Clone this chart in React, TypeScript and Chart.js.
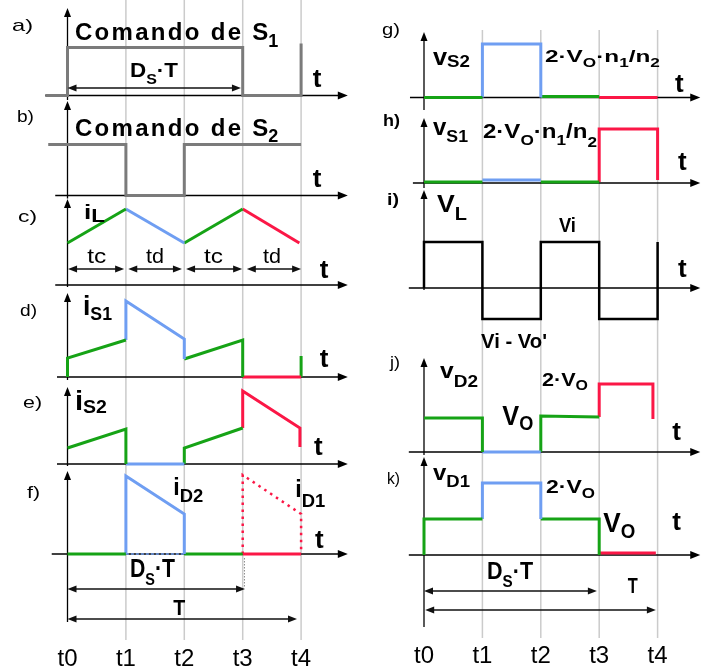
import { useEffect, useRef } from 'react';
import { Chart, registerables } from 'chart.js';

Chart.register(...registerables);

type Pt = [number, number];
type Col = 'L' | 'R';

const W = 702;
const H = 669;
const PX_PER_T = 58.4;
const PX_PER_UNIT = 10;
const COL_X0: Record<Col, number> = { L: 67.5, R: 424 };

const T_TICKS = [0, 1, 2, 3, 4];
const T_LABELS = ['t0', 't1', 't2', 't3', 't4'];

// a) gate command of S1
const cmdS1: Pt[] = [[-0.38, 0], [0, 0], [0, 4.8], [3, 4.8], [3, 0], [4, 0], [4, 5.2]];
// b) gate command of S2
const cmdS2: Pt[] = [[-0.33, 5.1], [1, 5.1], [1, 0], [2, 0], [2, 5.1], [4, 5.1]];

// c) inductor current iL
const iLRise1: Pt[] = [[0, 4.2], [1, 7.6]];
const iLFall1: Pt[] = [[1, 7.6], [2, 4.2]];
const iLRise2: Pt[] = [[2, 4.2], [3, 7.6]];
const iLFall2: Pt[] = [[3, 7.6], [3.97, 4.2]];

// d) switch current iS1
const iS1a: Pt[] = [[0, 0], [0, 1.9], [1, 3.7]];
const iS1b: Pt[] = [[1, 3.7], [1, 7.6], [2, 3.8], [2, 1.8]];
const iS1c: Pt[] = [[2, 1.8], [3, 3.7], [3, 0]];
const iS1d: Pt[] = [[3, 0], [4, 0]];
const iS1e: Pt[] = [[4, 0], [4, 2.1]];

// e) switch current iS2
const iS2a: Pt[] = [[0, 1.6], [1, 3.5], [1, 0]];
const iS2b: Pt[] = [[1, 0], [2, 0]];
const iS2c: Pt[] = [[2, 0], [2, 1.6], [3, 3.6]];
const iS2d: Pt[] = [[3, 3.6], [3, 7.3], [3.98, 3.6], [3.98, 1.7]];

// f) diode currents iD2 / iD1
const iD2Zero: Pt[] = [[1, 0], [2, 0]];
const iDOff1: Pt[] = [[0, 0], [1, 0]];
const iD2Pulse: Pt[] = [[1, 0], [1, 7.8], [2, 4.0], [2, 0]];
const iDOff2: Pt[] = [[2, 0], [3, 0]];
const iDOff3: Pt[] = [[3, 0], [4, 0]];
const iD1Pulse: Pt[] = [[3, 0], [3, 7.9], [4, 4.0], [4, 0]];

// g) switch voltage vS2
const vS2a: Pt[] = [[0, 0], [1, 0]];
const vS2b: Pt[] = [[1, 0], [1, 5.35], [2, 5.35], [2, 0]];
const vS2c: Pt[] = [[2, 0.1], [3, 0.1]];
const vS2d: Pt[] = [[3, 0], [4, 0]];

// h) switch voltage vS1
const vS1a: Pt[] = [[0, 0.1], [1, 0.1]];
const vS1b: Pt[] = [[1, 0.3], [2, 0.3]];
const vS1c: Pt[] = [[2, 0.1], [3, 0.1]];
const vS1d: Pt[] = [[3, 0.1], [3, 5.4], [4, 5.4], [4, 0.3]];

// i) inductor voltage VL
const vL: Pt[] = [[0, 0], [0, 4.6], [1, 4.6], [1, -3.1], [2, -3.1], [2, 4.6], [3, 4.6], [3, -3.1], [4, -3.1], [4, 4.6]];

// j) diode voltage vD2
const vD2a: Pt[] = [[0, 3.4], [1, 3.4], [1, 0]];
const vD2b: Pt[] = [[1, 0], [2, 0]];
const vD2c: Pt[] = [[2, 0], [2, 3.6], [3, 3.5]];
const vD2d: Pt[] = [[3, 3.5], [3, 6.8], [3.92, 6.8], [3.92, 3.3]];

// k) diode voltage vD1
const vD1a: Pt[] = [[0, 0], [0, 3.6], [1, 3.6]];
const vD1b: Pt[] = [[1, 3.6], [1, 7.2], [2, 7.2], [2, 3.6]];
const vD1c: Pt[] = [[2, 3.6], [3, 3.6], [3, 0]];
const vD1d: Pt[] = [[3, 0.2], [3.97, 0.2]];

const GREEN = '#16a316';
const BLUE = '#6f9ef2';
const RED = '#fb1746';
const GRAY = '#7b7b7b';
const GRID = '#cbcbcb';
const FONT = '"Liberation Sans", Arial, Helvetica, sans-serif';

type Panel = { id: string; col: Col; base: number; vLow: number; vHigh: number; tFrom: number; tTo: number };

// each panel: baseline pixel row and the extent of its axis arrows
const PANELS: Panel[] = [
  { id: 'a', col: 'L', base: 95.5, vLow: -0.45, vHigh: 8.75, tFrom: -0.38, tTo: 4.8 },
  { id: 'b', col: 'L', base: 195.5, vLow: -0.3, vHigh: 9.45, tFrom: -0.21, tTo: 4.8 },
  { id: 'c', col: 'L', base: 285, vLow: -0.2, vHigh: 8.6, tFrom: -0.21, tTo: 4.8 },
  { id: 'd', col: 'L', base: 377, vLow: -0.3, vHigh: 8.4, tFrom: -0.18, tTo: 4.8 },
  { id: 'e', col: 'L', base: 464, vLow: -0.2, vHigh: 7.7, tFrom: -0.18, tTo: 4.8 },
  { id: 'f', col: 'L', base: 554, vLow: -6.8, vHigh: 8.3, tFrom: -0.27, tTo: 4.8 },
  { id: 'g', col: 'R', base: 97.5, vLow: -1.25, vHigh: 6.55, tFrom: -0.24, tTo: 4.73 },
  { id: 'h', col: 'R', base: 183, vLow: -0.5, vHigh: 6.5, tFrom: -0.19, tTo: 4.73 },
  { id: 'i', col: 'R', base: 288, vLow: -0.2, vHigh: 9.8, tFrom: -0.26, tTo: 4.73 },
  { id: 'j', col: 'R', base: 452, vLow: -0.3, vHigh: 9.4, tFrom: -0.26, tTo: 4.73 },
  { id: 'k', col: 'R', base: 555, vLow: -7.2, vHigh: 9.8, tFrom: -0.26, tTo: 4.73 },
];
const colOf = (p: string): Col => (PANELS.find((q) => q.id === p) as Panel).col;

type Series = { p: string; pts: Pt[]; color: string; width?: number; dash?: number[] };
const SERIES: Series[] = [
  { p: 'a', pts: cmdS1, color: GRAY },
  { p: 'b', pts: cmdS2, color: GRAY },
  { p: 'c', pts: iLRise1, color: GREEN },
  { p: 'c', pts: iLFall1, color: BLUE },
  { p: 'c', pts: iLRise2, color: GREEN },
  { p: 'c', pts: iLFall2, color: RED },
  { p: 'd', pts: iS1a, color: GREEN },
  { p: 'd', pts: iS1b, color: BLUE },
  { p: 'd', pts: iS1c, color: GREEN },
  { p: 'd', pts: iS1d, color: RED },
  { p: 'd', pts: iS1e, color: GREEN },
  { p: 'e', pts: iS2a, color: GREEN },
  { p: 'e', pts: iS2b, color: BLUE },
  { p: 'e', pts: iS2c, color: GREEN },
  { p: 'e', pts: iS2d, color: RED },
  { p: 'f', pts: iD2Zero, color: BLUE, width: 1.5, dash: [3, 2] },
  { p: 'f', pts: iDOff1, color: GREEN },
  { p: 'f', pts: iD2Pulse, color: BLUE },
  { p: 'f', pts: iDOff2, color: GREEN },
  { p: 'f', pts: iDOff3, color: RED },
  { p: 'f', pts: iD1Pulse, color: RED, width: 2.5, dash: [2.5, 4.5] },
  { p: 'g', pts: vS2a, color: GREEN },
  { p: 'g', pts: vS2b, color: BLUE },
  { p: 'g', pts: vS2c, color: GREEN },
  { p: 'g', pts: vS2d, color: RED },
  { p: 'h', pts: vS1a, color: GREEN },
  { p: 'h', pts: vS1b, color: BLUE },
  { p: 'h', pts: vS1c, color: GREEN },
  { p: 'h', pts: vS1d, color: RED },
  { p: 'i', pts: vL, color: '#000000', width: 2.5 },
  { p: 'j', pts: vD2a, color: GREEN },
  { p: 'j', pts: vD2b, color: BLUE },
  { p: 'j', pts: vD2c, color: GREEN },
  { p: 'j', pts: vD2d, color: RED },
  { p: 'k', pts: vD1a, color: GREEN },
  { p: 'k', pts: vD1b, color: BLUE },
  { p: 'k', pts: vD1c, color: GREEN },
  { p: 'k', pts: vD1d, color: RED },
];

// interval dimension arrows
const DIMS = [
  { p: 'a', v: 0.75, from: 0, to: 2.97 },
  { p: 'c', v: 1.6, from: 0.01, to: 0.97 },
  { p: 'c', v: 1.6, from: 1.04, to: 1.96 },
  { p: 'c', v: 1.6, from: 2.03, to: 2.99 },
  { p: 'c', v: 1.6, from: 3.07, to: 4.0 },
  { p: 'f', v: -3.5, from: 0, to: 3.04 },
  { p: 'f', v: -6.5, from: 0, to: 3.93 },
  { p: 'k', v: -3.6, from: 0, to: 2.96 },
  { p: 'k', v: -5.5, from: 0.02, to: 3.97 },
];

type Run = { s: string; size: number; bold?: boolean; dy?: number; ls?: number };
type Label = { p: string; t: number; v: number; runs: Run[]; w?: number; center?: boolean };
const r = (s: string, size: number, bold = false, dy = 0, ls = 0): Run => ({ s, size, bold, dy, ls });

const LABELS: Label[] = [
  { p: 'a', t: -0.95, v: 6.45, w: 21, runs: [r('a)', 17)] },
  { p: 'b', t: -0.865, v: 7.35, w: 17, runs: [r('b)', 17)] },
  { p: 'c', t: -0.848, v: 6.3, w: 19, runs: [r('c)', 17)] },
  { p: 'd', t: -0.813, v: 6.1, w: 17, runs: [r('d)', 17)] },
  { p: 'e', t: -0.762, v: 5.6, w: 19, runs: [r('e)', 17)] },
  { p: 'f', t: -0.693, v: 5.6, w: 13, runs: [r('f)', 17)] },
  { p: 'g', t: -0.719, v: 6.25, w: 18, runs: [r('g)', 17)] },
  { p: 'h', t: -0.702, v: 5.7, w: 17, runs: [r('h)', 17, true)] },
  { p: 'i', t: -0.634, v: 8.3, w: 12, runs: [r('i)', 17, true)] },
  { p: 'j', t: -0.582, v: 8.4, w: 10, runs: [r('j)', 17)] },
  { p: 'k', t: -0.634, v: 7.1, w: 13, runs: [r('k)', 17)] },

  { p: 'a', t: 0.128, v: 5.55, runs: [r('Comando de S', 24, true, 0, 2.3), r('1', 18, true, 7)] },
  { p: 'b', t: 0.128, v: 5.95, runs: [r('Comando de S', 24, true, 0, 2.3), r('2', 18, true, 6)] },
  { p: 'a', t: 1.07, v: 1.85, w: 48, runs: [r('D', 21, true), r('S', 15, true, 7), r('·T', 21, true)] },
  { p: 'f', t: 1.07, v: -2.3, w: 45, runs: [r('D', 25, true), r('S', 17, true, 8), r('·T', 25, true)] },
  { p: 'k', t: 1.08, v: -2.4, w: 46, runs: [r('D', 24, true), r('S', 17, true, 8), r('·T', 24, true)] },
  { p: 'f', t: 1.81, v: -6.1, w: 12, runs: [r('T', 22, true)] },
  { p: 'k', t: 3.49, v: -3.8, w: 10, runs: [r('T', 22, true)] },

  { p: 'c', t: 0.5, v: 2.2, w: 19, center: true, runs: [r('tc', 21)] },
  { p: 'c', t: 1.5, v: 2.2, w: 18, center: true, runs: [r('td', 21)] },
  { p: 'c', t: 2.5, v: 2.2, w: 19, center: true, runs: [r('tc', 21)] },
  { p: 'c', t: 3.5, v: 2.2, w: 18, center: true, runs: [r('td', 21)] },

  { p: 'c', t: 0.283, v: 6.6, w: 21, runs: [r('i', 21, true), r('L', 18, true, 3)] },
  { p: 'd', t: 0.265, v: 6.2, w: 29, runs: [r('i', 27, true), r('S1', 18, true, 5)] },
  { p: 'e', t: 0.128, v: 5.4, w: 32, runs: [r('i', 27, true), r('S2', 18, true, 3)] },
  { p: 'f', t: 1.81, v: 5.9, w: 30, runs: [r('i', 24, true), r('D2', 19, true, 7)] },
  { p: 'f', t: 3.9, v: 5.7, w: 30, runs: [r('i', 24, true), r('D1', 19, true, 10)] },

  { p: 'g', t: 0.154, v: 3.25, w: 37, runs: [r('v', 23, true), r('S2', 17, true, 2)] },
  { p: 'g', t: 2.07, v: 3.55, w: 115, runs: [r('2·V', 17, true), r('O', 12, true, 5), r('·n', 17, true), r('1', 12, true, 5), r('/n', 17, true), r('2', 12, true, 5)] },
  { p: 'h', t: 0.154, v: 4.8, w: 35, runs: [r('v', 23, true), r('S1', 17, true, 7)] },
  { p: 'h', t: 1.01, v: 4.5, w: 114, runs: [r('2·V', 21, true), r('O', 15, true, 7), r('·n', 21, true), r('1', 15, true, 7), r('/n', 21, true), r('2', 15, true, 9)] },
  { p: 'i', t: 0.223, v: 7.6, w: 30, runs: [r('V', 24, true), r('L', 18, true, 8)] },
  { p: 'i', t: 2.31, v: 5.6, w: 17, runs: [r('Vi', 21, true)] },
  { p: 'i', t: 0.976, v: -6.0, w: 66, runs: [r("Vi - Vo'", 21, true)] },
  { p: 'j', t: 0.274, v: 7.4, w: 38, runs: [r('v', 22, true), r('D2', 17, true, 9)] },
  { p: 'j', t: 2.02, v: 6.6, w: 46, runs: [r('2·V', 19, true), r('O', 14, true, 4)] },
  { p: 'j', t: 1.34, v: 2.7, w: 31, runs: [r('V', 28, true), r('O', 20, true, 5)] },
  { p: 'k', t: 0.154, v: 7.5, w: 37, runs: [r('v', 22, true), r('D1', 17, true, 7)] },
  { p: 'k', t: 2.09, v: 6.2, w: 49, runs: [r('2·V', 19, true), r('O', 14, true, 5)] },
  { p: 'k', t: 3.07, v: 2.3, w: 32, runs: [r('V', 28, true), r('O', 20, true, 6)] },

  { p: 'a', t: 4.2, v: 0.85, runs: [r('t', 26, true)] },
  { p: 'b', t: 4.2, v: 0.85, runs: [r('t', 26, true)] },
  { p: 'c', t: 4.32, v: 0.7, runs: [r('t', 26, true)] },
  { p: 'd', t: 4.32, v: 1.0, runs: [r('t', 26, true)] },
  { p: 'e', t: 4.22, v: 0.9, runs: [r('t', 26, true)] },
  { p: 'f', t: 4.24, v: 0.6, runs: [r('t', 26, true)] },
  { p: 'g', t: 4.3, v: 0.55, runs: [r('t', 26, true)] },
  { p: 'h', t: 4.35, v: 1.3, runs: [r('t', 26, true)] },
  { p: 'i', t: 4.35, v: 1.1, runs: [r('t', 26, true)] },
  { p: 'j', t: 4.25, v: 1.2, runs: [r('t', 26, true)] },
  { p: 'k', t: 4.25, v: 2.5, runs: [r('t', 26, true)] },

  ...T_TICKS.map((t, i) => ({ p: 'f', t, v: -11.2, center: true, runs: [r(T_LABELS[i], 24)] })),
  ...T_TICKS.map((t, i) => ({ p: 'k', t, v: -10.8, center: true, runs: [r(T_LABELS[i], 24)] })),
];

const fontOf = (run: Run) => `${run.bold ? 'bold ' : ''}${run.size}px ${FONT}`;

function runWidth(ctx: CanvasRenderingContext2D, run: Run) {
  ctx.font = fontOf(run);
  if (!run.ls) return ctx.measureText(run.s).width;
  let w = 0;
  for (const ch of run.s) w += ctx.measureText(ch).width;
  return w + run.ls * (run.s.length - 1);
}

function drawRun(ctx: CanvasRenderingContext2D, run: Run, x: number) {
  ctx.font = fontOf(run);
  const dy = run.dy || 0;
  if (!run.ls) {
    ctx.fillText(run.s, x, dy);
    return ctx.measureText(run.s).width;
  }
  let cx = x;
  for (const ch of run.s) {
    ctx.fillText(ch, cx, dy);
    cx += ctx.measureText(ch).width + run.ls;
  }
  return cx - x - run.ls;
}

function head(ctx: CanvasRenderingContext2D, x: number, y: number, dx: number, dy: number, len: number, half: number) {
  const bx = x - dx * len;
  const by = y - dy * len;
  ctx.beginPath();
  ctx.moveTo(x, y);
  ctx.lineTo(bx - dy * half, by + dx * half);
  ctx.lineTo(bx + dy * half, by - dx * half);
  ctx.closePath();
  ctx.fill();
}

function seg(ctx: CanvasRenderingContext2D, x1: number, y1: number, x2: number, y2: number) {
  ctx.beginPath();
  ctx.moveTo(x1, y1);
  ctx.lineTo(x2, y2);
  ctx.stroke();
}

const diagramPlugin = {
  id: 'diagram',
  beforeDatasetsDraw(chart: any) {
    const ctx: CanvasRenderingContext2D = chart.ctx;
    const X = (c: Col, t: number) => chart.scales['x' + c].getPixelForValue(t);
    const Y = (p: string, v: number) => chart.scales['y' + p].getPixelForValue(v);
    ctx.save();
    // time grid lines through each column
    ctx.strokeStyle = GRID;
    ctx.lineWidth = 1.5;
    for (const t of T_TICKS.slice(1)) {
      seg(ctx, X('L', t), Y('a', 9.55), X('L', t), Y('f', -8.6));
      seg(ctx, X('R', t), Y('g', 6.75), X('R', t), Y('k', -8.3));
    }
    // panel axes with arrow heads
    ctx.strokeStyle = '#000';
    ctx.fillStyle = '#000';
    ctx.lineWidth = 1.3;
    for (const p of PANELS) {
      const ax = X(p.col, 0);
      const top = Y(p.id, p.vHigh);
      seg(ctx, ax, Y(p.id, p.vLow), ax, top + 6);
      head(ctx, ax, top, 0, -1, 9, 3.5);
      const ay = Y(p.id, 0);
      const right = X(p.col, p.tTo);
      seg(ctx, X(p.col, p.tFrom), ay, right - 6, ay);
      head(ctx, right, ay, 1, 0, 10, 4);
    }
    ctx.restore();
  },
  afterDatasetsDraw(chart: any) {
    const ctx: CanvasRenderingContext2D = chart.ctx;
    const X = (c: Col, t: number) => chart.scales['x' + c].getPixelForValue(t);
    const Y = (p: string, v: number) => chart.scales['y' + p].getPixelForValue(v);
    ctx.save();
    // dotted marker below t3 in f)
    ctx.strokeStyle = '#888';
    ctx.lineWidth = 1;
    ctx.setLineDash([1.5, 1.5]);
    seg(ctx, X('L', 3.03), Y('f', -0.4), X('L', 3.03), Y('f', -3.4));
    ctx.setLineDash([]);
    // dimension arrows
    ctx.strokeStyle = '#111';
    ctx.fillStyle = '#111';
    ctx.lineWidth = 1.3;
    for (const d of DIMS) {
      const c = colOf(d.p);
      const y = Y(d.p, d.v);
      const x1 = X(c, d.from);
      const x2 = X(c, d.to);
      seg(ctx, x1 + 5, y, x2 - 5, y);
      head(ctx, x1, y, -1, 0, 9, 3.5);
      head(ctx, x2, y, 1, 0, 9, 3.5);
    }
    // text
    ctx.fillStyle = '#000';
    ctx.textBaseline = 'alphabetic';
    ctx.textAlign = 'left';
    for (const l of LABELS) {
      const c = colOf(l.p);
      const natural = l.runs.reduce((s, run) => s + runWidth(ctx, run), 0);
      const sx = l.w ? l.w / natural : 1;
      let x = X(c, l.t);
      if (l.center) x -= (natural * sx) / 2;
      ctx.save();
      ctx.translate(x, Y(l.p, l.v));
      ctx.scale(sx, 1);
      let cx = 0;
      for (const run of l.runs) cx += drawRun(ctx, run, cx);
      ctx.restore();
    }
    ctx.restore();
  },
};

export default function App() {
  const ref = useRef<HTMLCanvasElement>(null);

  useEffect(() => {
    const scales: any = {
      xL: { type: 'linear', display: false, bounds: 'data', min: -COL_X0.L / PX_PER_T, max: (W - COL_X0.L) / PX_PER_T },
      xR: { type: 'linear', display: false, bounds: 'data', min: -COL_X0.R / PX_PER_T, max: (W - COL_X0.R) / PX_PER_T },
    };
    for (const p of PANELS) {
      scales['y' + p.id] = {
        type: 'linear',
        display: false,
        bounds: 'data',
        min: (p.base - H) / PX_PER_UNIT,
        max: p.base / PX_PER_UNIT,
      };
    }
    const datasets = SERIES.map((s) => ({
      data: s.pts.map(([t, v]) => ({ x: t, y: v })),
      xAxisID: 'x' + colOf(s.p),
      yAxisID: 'y' + s.p,
      borderColor: s.color,
      borderWidth: s.width ?? 3,
      borderDash: s.dash ?? [],
      borderCapStyle: 'butt',
      borderJoinStyle: 'miter',
      pointRadius: 0,
      fill: false,
      tension: 0,
    }));
    const chart = new Chart(ref.current as HTMLCanvasElement, {
      type: 'line',
      data: { datasets } as any,
      options: {
        animation: false,
        responsive: false,
        devicePixelRatio: 1,
        events: [],
        layout: { padding: 0 },
        plugins: { legend: { display: false }, tooltip: { enabled: false }, title: { display: false } },
        scales,
      } as any,
      plugins: [diagramPlugin],
    });
    return () => chart.destroy();
  }, []);

  return (
    <div style={{ position: 'absolute', left: 0, top: 0, width: W, height: H, background: '#fff' }}>
      <canvas ref={ref} width={W} height={H} style={{ display: 'block', width: W, height: H }} />
    </div>
  );
}
